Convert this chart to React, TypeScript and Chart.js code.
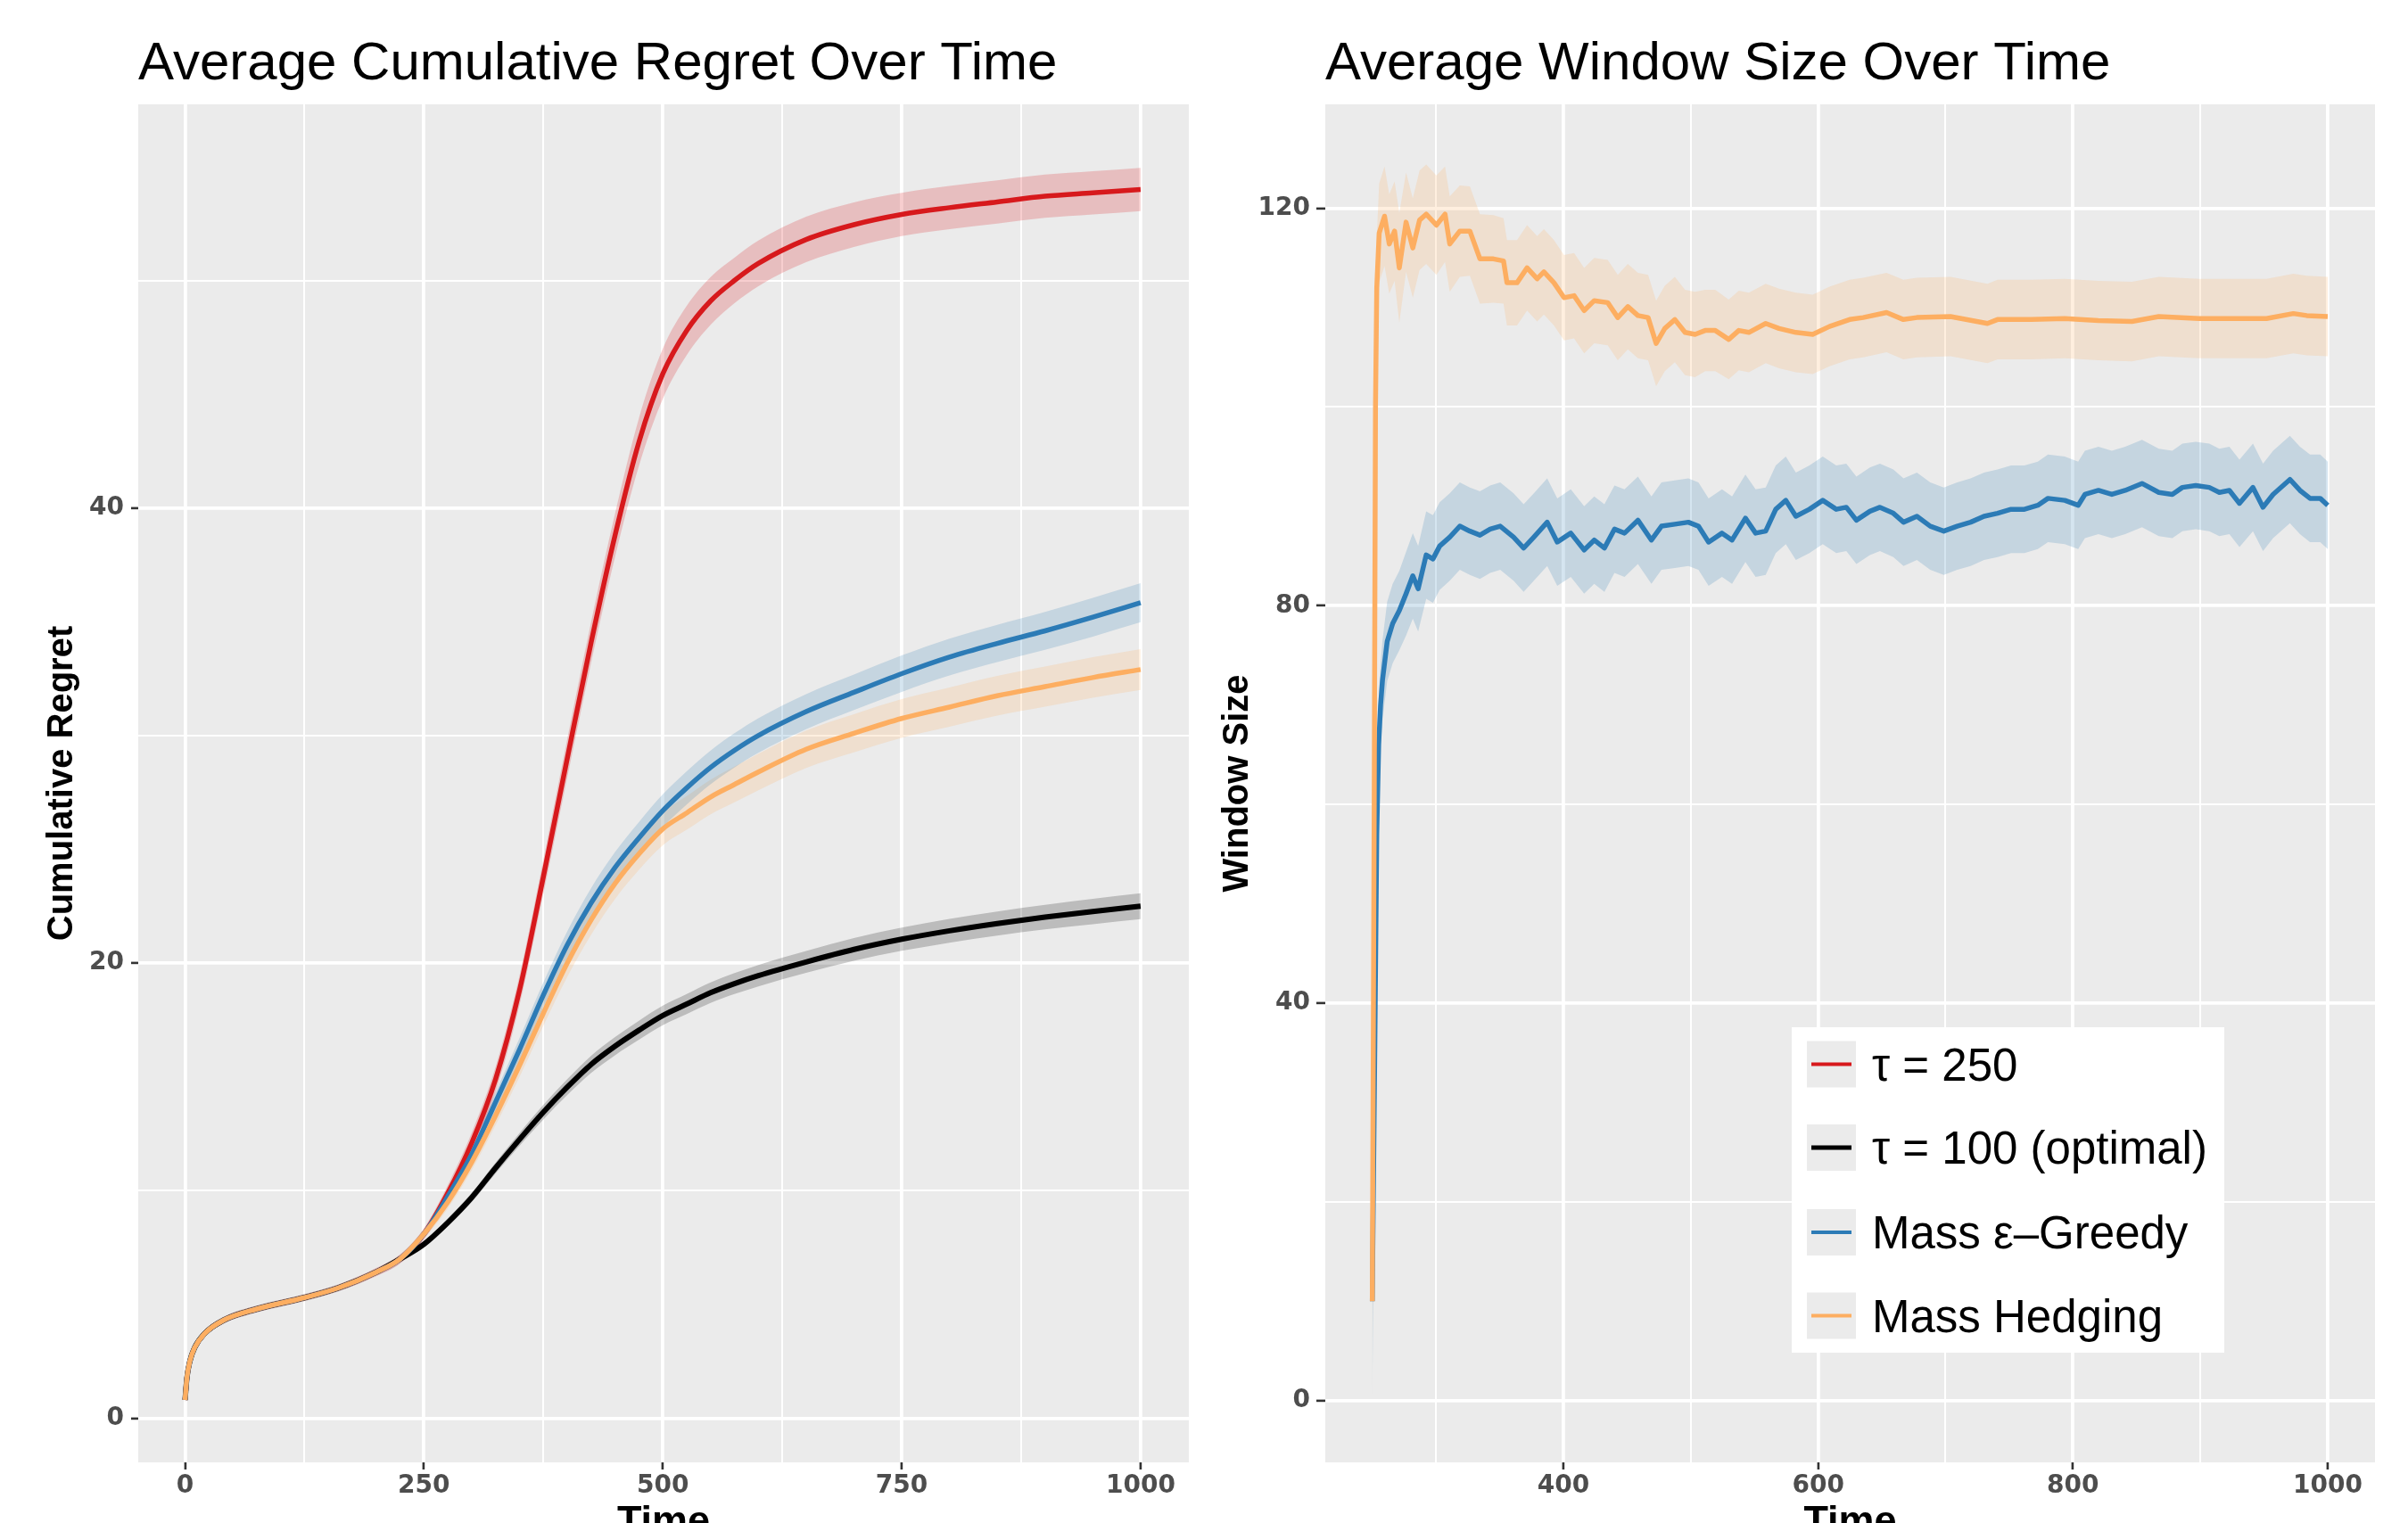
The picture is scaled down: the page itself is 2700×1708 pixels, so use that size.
import React, { useEffect, useRef } from "react";
import { Chart, registerables } from "chart.js";

Chart.register(...registerables);

// ---------- shared labels / colours ----------
const legendLabels = ["τ = 250", "τ = 100 (optimal)", "Mass ε–Greedy", "Mass Hedging"];
const seriesColors = ["#D7191C", "#000000", "#2C7BB6", "#FDAE61"];
const bandColors = [
  "rgba(215,25,28,0.21)",
  "rgba(0,0,0,0.2)",
  "rgba(44,123,182,0.2)",
  "rgba(253,174,97,0.2)",
];

const leftTitle = "Average Cumulative Regret Over Time";
const rightTitle = "Average Window Size Over Time";
const xAxisTitle = "Time";
const leftYTitle = "Cumulative Regret";
const rightYTitle = "Window Size";

// ---------- left panel: cumulative regret ----------
const regretTime = [0, 2, 5, 10, 20, 40, 75, 125, 160, 200, 225, 250, 275, 300, 325, 350, 375, 400, 425, 450, 475, 500, 525, 550, 575, 600, 650, 700, 750, 800, 850, 900, 950, 1000];
const regretTau250 = [0.8, 1.8, 2.5, 3.1, 3.7, 4.3, 4.8, 5.3, 5.72, 6.42, 7.0, 8.1, 9.9, 12.1, 14.9, 18.8, 23.8, 29.0, 34.1, 38.8, 42.9, 45.9, 47.8, 49.1, 50.0, 50.75, 51.8, 52.45, 52.9, 53.2, 53.45, 53.7, 53.85, 54.0];
const regretTau100 = [0.8, 1.8, 2.5, 3.1, 3.7, 4.3, 4.8, 5.3, 5.72, 6.42, 7.0, 7.65, 8.6, 9.7, 11.0, 12.25, 13.45, 14.55, 15.55, 16.35, 17.05, 17.7, 18.2, 18.7, 19.1, 19.45, 20.05, 20.6, 21.05, 21.42, 21.74, 22.02, 22.27, 22.5];
const regretGreedy = [0.8, 1.8, 2.5, 3.1, 3.7, 4.3, 4.8, 5.3, 5.72, 6.42, 7.0, 8.1, 9.75, 11.6, 13.9, 16.2, 18.6, 20.8, 22.65, 24.2, 25.5, 26.7, 27.7, 28.6, 29.35, 30.0, 31.05, 31.9, 32.72, 33.45, 34.05, 34.6, 35.2, 35.84];
const regretHedging = [0.8, 1.8, 2.5, 3.1, 3.7, 4.3, 4.8, 5.3, 5.72, 6.42, 7.0, 8.1, 9.5, 11.25, 13.3, 15.5, 17.8, 20.0, 21.9, 23.5, 24.8, 25.9, 26.6, 27.3, 27.85, 28.4, 29.4, 30.1, 30.75, 31.25, 31.75, 32.15, 32.55, 32.9];
// ribbon half-widths
const regretBandTau250 = [0.15, 0.15, 0.15, 0.15, 0.15, 0.15, 0.15, 0.15, 0.15, 0.18, 0.2, 0.25, 0.35, 0.45, 0.55, 0.65, 0.75, 0.85, 0.9, 0.95, 1.05, 1.1, 1.08, 1.05, 1.0, 1.0, 1.0, 0.98, 0.95, 0.95, 0.95, 0.95, 0.95, 0.95];
const regretBandTau100 = [0.15, 0.15, 0.15, 0.15, 0.15, 0.15, 0.15, 0.15, 0.15, 0.15, 0.15, 0.15, 0.18, 0.2, 0.24, 0.28, 0.32, 0.35, 0.38, 0.4, 0.42, 0.43, 0.44, 0.45, 0.46, 0.47, 0.48, 0.5, 0.51, 0.52, 0.53, 0.54, 0.56, 0.57];
const regretBandGreedy = [0.15, 0.15, 0.15, 0.15, 0.15, 0.15, 0.15, 0.15, 0.15, 0.15, 0.18, 0.2, 0.28, 0.35, 0.42, 0.5, 0.55, 0.6, 0.65, 0.68, 0.7, 0.72, 0.73, 0.74, 0.75, 0.76, 0.77, 0.78, 0.8, 0.81, 0.82, 0.83, 0.85, 0.86];
const regretBandHedging = [0.15, 0.15, 0.15, 0.15, 0.15, 0.15, 0.15, 0.15, 0.15, 0.15, 0.18, 0.2, 0.28, 0.35, 0.42, 0.5, 0.55, 0.6, 0.65, 0.68, 0.7, 0.72, 0.74, 0.76, 0.78, 0.8, 0.82, 0.84, 0.85, 0.86, 0.87, 0.88, 0.89, 0.9];

const leftXTicks = [0, 125, 250, 375, 500, 625, 750, 875, 1000];
const leftXMajor = [0, 250, 500, 750, 1000];
const leftYTicks = [0, 10, 20, 30, 40, 50];
const leftYMajor = [0, 20, 40];

// ---------- right panel: window size ----------
const greedyTime = [250, 252, 253.5, 255, 256.5, 258, 261.7, 266, 271.2, 276.5, 281.8, 286, 292.3, 297.6, 302.9, 310.8, 318.7, 326.6, 334.5, 342.5, 350.4, 360.9, 368.8, 376.8, 387.3, 395.2, 405.8, 416.3, 424.2, 432.2, 440.1, 448, 458.5, 469.1, 477, 487.5, 498.1, 506, 514, 524.5, 532.4, 542.9, 550.9, 558.8, 566.7, 574.6, 582.5, 593.1, 603.6, 614.2, 622.1, 630, 640.6, 648.5, 659, 667, 677.5, 688, 698.6, 709.1, 719.7, 730.2, 740.8, 751.4, 761.9, 772.4, 780.4, 793.6, 804.1, 809.4, 820, 830.5, 841, 854.2, 867.4, 878, 885.9, 896.4, 907, 914.9, 922.8, 930.7, 941.3, 949.2, 957.1, 970.3, 978.2, 986.1, 994.1, 1000];
const greedyWindow = [10, 36, 57, 66, 70, 72.5, 76.4, 78.2, 79.5, 81.2, 83.0, 81.7, 85.1, 84.7, 86.0, 86.9, 88.0, 87.5, 87.1, 87.7, 88.0, 86.9, 85.8, 86.9, 88.4, 86.4, 87.3, 85.6, 86.6, 85.8, 87.7, 87.3, 88.6, 86.6, 88.0, 88.2, 88.4, 88.0, 86.4, 87.3, 86.6, 88.8, 87.3, 87.5, 89.7, 90.6, 89.0, 89.7, 90.6, 89.7, 89.9, 88.6, 89.5, 89.9, 89.3, 88.4, 89.0, 88.0, 87.5, 88.0, 88.4, 89.0, 89.3, 89.7, 89.7, 90.1, 90.8, 90.6, 90.1, 91.2, 91.6, 91.2, 91.6, 92.3, 91.4, 91.2, 91.9, 92.1, 91.9, 91.4, 91.6, 90.3, 91.9, 89.9, 91.2, 92.7, 91.6, 90.8, 90.8, 90.1];
const greedyBand = [10, 6, 5, 4.5, 4.2, 4, 4, 4, 4, 4.2, 4.3, 4.3, 4.4, 4.4, 4.4, 4.4, 4.4, 4.4, 4.4, 4.4, 4.4, 4.4, 4.4, 4.4, 4.4, 4.4, 4.4, 4.4, 4.4, 4.4, 4.4, 4.4, 4.4, 4.4, 4.4, 4.4, 4.4, 4.4, 4.4, 4.4, 4.4, 4.4, 4.4, 4.4, 4.4, 4.4, 4.4, 4.4, 4.4, 4.4, 4.4, 4.4, 4.4, 4.4, 4.4, 4.4, 4.4, 4.4, 4.4, 4.4, 4.4, 4.4, 4.4, 4.4, 4.4, 4.4, 4.4, 4.4, 4.4, 4.4, 4.4, 4.4, 4.4, 4.4, 4.4, 4.4, 4.4, 4.4, 4.4, 4.4, 4.4, 4.4, 4.4, 4.4, 4.4, 4.4, 4.4, 4.4, 4.4, 4.4];

const hedgingTime = [250, 251.5, 252.5, 253.5, 255.4, 259.6, 263.3, 267.5, 271.2, 276.5, 281.8, 287.1, 292.3, 300.3, 307.1, 310.8, 318.7, 326.6, 334.5, 345.1, 353.0, 355.7, 363.6, 371.5, 379.4, 384.7, 392.6, 400.5, 408.4, 416.3, 424.2, 434.8, 442.7, 450.6, 458.5, 466.5, 472.8, 479.6, 487.5, 495.5, 503.4, 511.3, 519.2, 529.8, 537.7, 545.6, 558.8, 569.3, 582.5, 595.7, 608.9, 624.7, 635.3, 653.7, 666.9, 677.5, 703.9, 732.9, 740.8, 767.2, 793.6, 819.9, 846.3, 867.4, 899.1, 925.5, 951.9, 973.0, 983.5, 1000];
const hedgingWindow = [10, 60, 100, 112, 117.5, 119.2, 116.4, 117.7, 114.0, 118.6, 116.0, 118.8, 119.4, 118.3, 119.4, 116.4, 117.7, 117.7, 114.9, 114.9, 114.7, 112.5, 112.5, 114.0, 112.9, 113.6, 112.5, 111.0, 111.2, 109.7, 110.7, 110.5, 109.0, 110.1, 109.2, 109.0, 106.4, 107.9, 108.8, 107.5, 107.3, 107.7, 107.7, 106.8, 107.7, 107.5, 108.4, 107.9, 107.5, 107.3, 108.1, 108.8, 109.0, 109.5, 108.8, 109.0, 109.1, 108.4, 108.8, 108.8, 108.9, 108.7, 108.6, 109.1, 108.9, 108.9, 108.9, 109.4, 109.2, 109.1];
const hedgingBand = [10, 8, 6, 5, 5, 5, 5, 5, 5.5, 5, 5, 5, 5, 5, 4.8, 4.8, 4.6, 4.5, 4.5, 4.4, 4.3, 4.3, 4.3, 4.3, 4.3, 4.3, 4.3, 4.3, 4.3, 4.3, 4.3, 4.3, 4.3, 4.3, 4.3, 4.3, 4.3, 4.3, 4.3, 4.3, 4.3, 4.1, 4.1, 4.0, 4.0, 4.0, 4.0, 4.0, 4.0, 4.0, 4.0, 4.0, 4.0, 4.0, 4.0, 4.0, 4.0, 4.0, 4.0, 4.0, 4.0, 4.0, 4.0, 4.0, 4.0, 4.0, 4.0, 4.0, 4.0, 4.0];

const rightXTicks = [300, 400, 500, 600, 700, 800, 900, 1000];
const rightXMajor = [400, 600, 800, 1000];
const rightYTicks = [0, 20, 40, 60, 80, 100, 120];
const rightYMajor = [0, 40, 80, 120];

// ---------- helpers ----------
const CANVAS_W = 1350;
const CANVAS_H = 1708;
const SANS = '"Liberation Sans", Arial, Helvetica, sans-serif';
const tickFont = { family: '"DejaVu Sans", Verdana, sans-serif', weight: "bold" as const, size: 28 };

const pts = (xs: number[], ys: number[], off: number[] | null, sign: number) =>
  xs.map((x, i) => ({ x, y: ys[i] + (off ? sign * off[i] : 0) }));

const gridFor = (majors: number[], tickLen: number) => ({
  color: "#FFFFFF",
  lineWidth: (c: any) => (c.tick && majors.includes(c.tick.value) ? 3.8 : 2),
  tickLength: tickLen,
  tickWidth: 2.6,
  tickColor: (c: any) => (c.tick && majors.includes(c.tick.value) ? "#333333" : "rgba(0,0,0,0)"),
  drawTicks: true,
  drawOnChartArea: true,
});

const axis = (
  min: number,
  max: number,
  ticks: number[],
  majors: number[],
  fit: (s: any) => void,
  tickLen: number,
  pad: number
) => ({
  type: "linear" as const,
  min,
  max,
  afterBuildTicks: (s: any) => {
    s.ticks = ticks.map((v) => ({ value: v }));
  },
  afterFit: fit,
  border: { display: false },
  grid: gridFor(majors, tickLen),
  ticks: {
    autoSkip: false,
    maxRotation: 0,
    minRotation: 0,
    padding: pad,
    color: "#4D4D4D",
    font: tickFont,
    callback: (v: any) => (majors.includes(v) ? String(v) : ""),
  },
});

const panelBackground = {
  id: "panelBackground",
  beforeDraw(chart: any) {
    const { ctx, chartArea: a } = chart;
    ctx.save();
    ctx.fillStyle = "#FFFFFF";
    ctx.fillRect(0, 0, chart.width, chart.height);
    ctx.fillStyle = "#EBEBEB";
    ctx.fillRect(a.left, a.top, a.right - a.left, a.bottom - a.top);
    ctx.restore();
  },
};

const textPlugin = (title: string, xTitle: string, yTitle: string, yTitleX: number) => ({
  id: "panelTexts",
  afterDraw(chart: any) {
    const { ctx, chartArea: a } = chart;
    ctx.save();
    ctx.fillStyle = "#000000";
    ctx.textBaseline = "alphabetic";
    ctx.textAlign = "left";
    ctx.font = `60px ${SANS}`;
    ctx.fillText(title, a.left, 89);
    ctx.font = `bold 45px ${SANS}`;
    ctx.textAlign = "center";
    ctx.fillText(xTitle, (a.left + a.right) / 2, 1720);
    ctx.font = `bold 40px ${SANS}`;
    ctx.translate(yTitleX, (a.top + a.bottom) / 2);
    ctx.rotate(-Math.PI / 2);
    ctx.fillText(yTitle, 0, 0);
    ctx.restore();
  },
});

const legendPlugin = {
  id: "panelLegend",
  afterDraw(chart: any) {
    const { ctx } = chart;
    const boxX = 659, boxY = 1152, boxW = 485, boxH = 365;
    const centers = [1193.5, 1287, 1382, 1475.5];
    ctx.save();
    ctx.fillStyle = "#FFFFFF";
    ctx.fillRect(boxX, boxY, boxW, boxH);
    legendLabels.forEach((label, i) => {
      const cy = centers[i];
      ctx.fillStyle = "#EBEBEB";
      ctx.fillRect(676, cy - 26, 55, 52);
      ctx.strokeStyle = seriesColors[i];
      ctx.lineWidth = i === 1 ? 5 : 4;
      ctx.beginPath();
      ctx.moveTo(681, cy);
      ctx.lineTo(726, cy);
      ctx.stroke();
      ctx.fillStyle = "#000000";
      ctx.font = `51px ${SANS}`;
      ctx.textAlign = "left";
      ctx.textBaseline = "alphabetic";
      ctx.fillText(label, 749, cy + 18);
    });
    ctx.restore();
  },
};

function leftConfig(): any {
  const means = [regretTau250, regretTau100, regretGreedy, regretHedging];
  const bands = [regretBandTau250, regretBandTau100, regretBandGreedy, regretBandHedging];
  const lineOrder = [3, 2, 1, 0];
  const datasets: any[] = [];
  means.forEach((m, i) => {
    datasets.push({
      data: pts(regretTime, m, bands[i], 1),
      borderColor: "rgba(0,0,0,0)",
      borderWidth: 0,
      backgroundColor: bandColors[i],
      fill: datasets.length + 1,
      pointRadius: 0,
      cubicInterpolationMode: "monotone",
      order: 20 + i,
    });
    datasets.push({
      data: pts(regretTime, m, bands[i], -1),
      borderColor: "rgba(0,0,0,0)",
      borderWidth: 0,
      fill: false,
      pointRadius: 0,
      cubicInterpolationMode: "monotone",
      order: 20 + i,
    });
  });
  means.forEach((m, i) => {
    datasets.push({
      label: legendLabels[i],
      data: pts(regretTime, m, null, 0),
      borderColor: seriesColors[i],
      borderWidth: i === 1 ? 6 : 5.5,
      fill: false,
      pointRadius: 0,
      cubicInterpolationMode: "monotone",
      order: lineOrder[i],
    });
  });
  return {
    type: "line",
    data: { datasets },
    plugins: [panelBackground, textPlugin(leftTitle, xAxisTitle, leftYTitle, 81)],
    options: {
      responsive: false,
      animation: false,
      devicePixelRatio: 1,
      events: [],
      layout: { padding: { left: 0, right: 17, top: 117, bottom: 0 } },
      plugins: { legend: { display: false }, tooltip: { enabled: false }, title: { display: false } },
      scales: {
        x: axis(-49, 1050.5, leftXTicks, leftXMajor, (s: any) => { s.height = 68; }, 8, 2),
        y: axis(-1.94, 57.74, leftYTicks, leftYMajor, (s: any) => { s.width = 155; }, 8, 8),
      },
    },
  };
}

function rightConfig(): any {
  const series = [
    { t: greedyTime, m: greedyWindow, b: greedyBand, c: 2 },
    { t: hedgingTime, m: hedgingWindow, b: hedgingBand, c: 3 },
  ];
  const datasets: any[] = [];
  series.forEach((s, i) => {
    datasets.push({
      data: pts(s.t, s.m, s.b, 1),
      borderColor: "rgba(0,0,0,0)",
      borderWidth: 0,
      backgroundColor: bandColors[s.c],
      fill: datasets.length + 1,
      pointRadius: 0,
      tension: 0,
      order: 20 + i,
    });
    datasets.push({
      data: pts(s.t, s.m, s.b, -1),
      borderColor: "rgba(0,0,0,0)",
      borderWidth: 0,
      fill: false,
      pointRadius: 0,
      tension: 0,
      order: 20 + i,
    });
  });
  series.forEach((s, i) => {
    datasets.push({
      label: legendLabels[s.c],
      data: pts(s.t, s.m, null, 0),
      borderColor: seriesColors[s.c],
      borderWidth: 5.5,
      borderJoinStyle: "round",
      fill: false,
      pointRadius: 0,
      tension: 0,
      order: 1 - i,
    });
  });
  return {
    type: "line",
    data: { datasets },
    plugins: [panelBackground, textPlugin(rightTitle, xAxisTitle, rightYTitle, 49), legendPlugin],
    options: {
      responsive: false,
      animation: false,
      devicePixelRatio: 1,
      events: [],
      layout: { padding: { left: 0, right: 37, top: 117, bottom: 0 } },
      plugins: { legend: { display: false }, tooltip: { enabled: false }, title: { display: false } },
      scales: {
        x: axis(213.1, 1037.1, rightXTicks, rightXMajor, (s: any) => { s.height = 68; }, 8, 2),
        y: axis(-6.23, 130.46, rightYTicks, rightYMajor, (s: any) => { s.width = 136; }, 10, 7),
      },
    },
  };
}

function Panel({ build, left }: { build: () => any; left: number }) {
  const ref = useRef<HTMLCanvasElement | null>(null);
  useEffect(() => {
    if (!ref.current) return;
    const chart = new Chart(ref.current, build());
    return () => chart.destroy();
  }, []);
  return (
    <canvas
      ref={ref}
      width={CANVAS_W}
      height={CANVAS_H}
      style={{ position: "absolute", left, top: 0, width: CANVAS_W, height: CANVAS_H, display: "block" }}
    />
  );
}

export default function App() {
  return (
    <div style={{ position: "absolute", left: 0, top: 0, width: 2700, height: 1708, background: "#FFFFFF", overflow: "hidden" }}>
      <Panel build={leftConfig} left={0} />
      <Panel build={rightConfig} left={1350} />
    </div>
  );
}
